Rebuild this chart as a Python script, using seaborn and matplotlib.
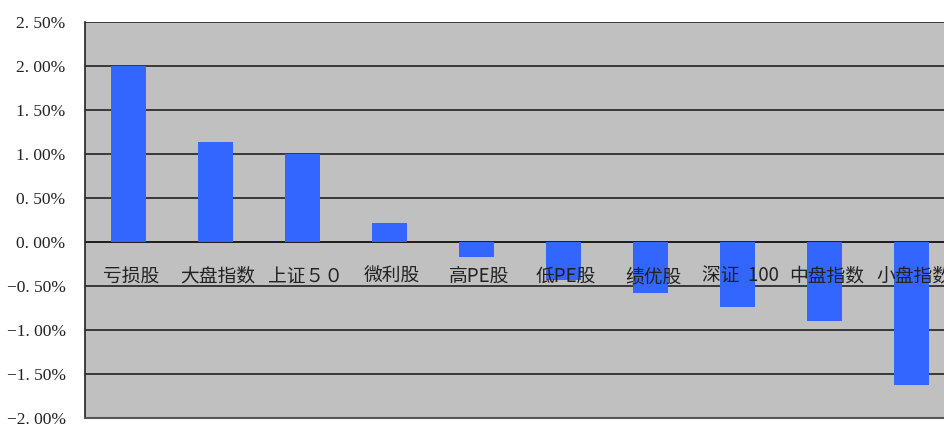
import numpy as np
import pandas as pd
import seaborn as sns
import matplotlib.pyplot as plt
from matplotlib.ticker import FuncFormatter

# category names and returns (in percent)
categories = ['亏损股', '大盘指数', '上证５０', '微利股', '高PE股',
              '低PE股', '绩优股', '深证  100', '中盘指数', '小盘指数']
returns = [2.00, 1.14, 1.00, 0.22, -0.17, -0.43, -0.58, -0.74, -0.90, -1.63]
yticks = [-2.0, -1.5, -1.0, -0.5, 0.0, 0.5, 1.0, 1.5, 2.0, 2.5]

df = pd.DataFrame({'cat': categories, 'ret': returns})

sns.set_style('white')
plt.rcParams['font.family'] = ['Noto Sans CJK SC', 'DejaVu Sans']

fig = plt.figure(figsize=(9.45, 4.26), dpi=100)
ax = fig.add_axes([85 / 945, 1 - 418 / 426, 870 / 945, 396 / 426])
ax.set_facecolor('#c0c0c0')

sns.barplot(data=df, x='cat', y='ret', color='#3366ff', saturation=1,
            width=0.40, linewidth=0, edgecolor='none', ax=ax, zorder=3)


def pct(v, p):
    s = f'{abs(v):.2f}%'.replace('.', '. ')
    return ('\u2212' + s) if v < 0 else s


ax.set_ylim(-2.0, 2.5)
ax.set_xlim(-0.5, len(categories) - 0.5)
ax.set_yticks(yticks)
ax.yaxis.set_major_formatter(FuncFormatter(pct))
for lab in ax.get_yticklabels():
    lab.set_family(['Liberation Serif', 'DejaVu Serif'])
    lab.set_fontsize(12.5)
    lab.set_color('#222222')
ax.tick_params(axis='y', length=0, pad=14)
ax.set_xticks([])
ax.set_xlabel('')
ax.set_ylabel('')

# horizontal grid lines
for v in yticks:
    ax.axhline(v, color='black' if v == 0 else '#222222', lw=1.2, zorder=2)

# category labels just under the zero line
for i, c in enumerate(categories):
    ax.text(i + 0.03, -0.39, c, ha='center', va='center', fontsize=13.5,
            color='#222222', zorder=4)

for s in ['top', 'right']:
    ax.spines[s].set_visible(False)
ax.spines['left'].set_color('#222222')
ax.spines['left'].set_linewidth(1.2)
ax.spines['bottom'].set_color('#555555')
ax.spines['bottom'].set_linewidth(1.5)

fig.savefig('out.png', dpi=100)
